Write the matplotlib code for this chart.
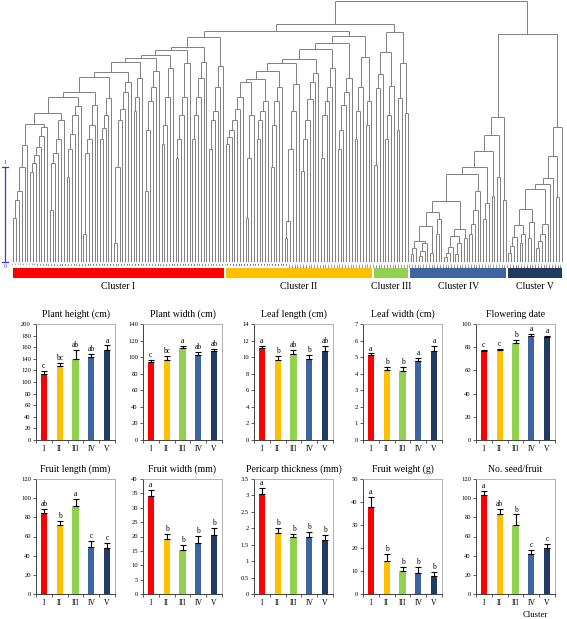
import matplotlib
matplotlib.use('Agg')
import matplotlib.pyplot as plt
from matplotlib.collections import LineCollection
from matplotlib.patches import Rectangle
from matplotlib.transforms import blended_transform_factory

W, H = 567, 619
fig = plt.figure(figsize=(W / 100, H / 100), dpi=100)
SERIF = ['Liberation Serif', 'DejaVu Serif']

def ax_px(l, t, r, b):
    return fig.add_axes([l / W, 1 - b / H, (r - l) / W, (b - t) / H])

# ---------------- dendrogram data (heights, linkage scale) ----------------
# list of floats  -> ladder clade (successive leaves join at those heights)
# ('N', h, a, b)  -> node joining a and b at height h
# ('S', parts, hs)-> spine: parts joined one after another at heights hs
# 0               -> single leaf
cluster_I = ('S', [
    [0.47, 0.66, 0.75, 1.0, 1.24],
    [0.95, 1.05, 1.13, 1.22, 1.33, 1.43],
    [0.55, 1.05, 1.15, 1.3, 1.5],
    [0.9, 1.2, 1.35, 1.55, 1.65],
    [0.3, 1.15, 1.3, 1.45, 1.66],
    [1.3, 1.42, 1.55, 1.73],
    [0.2, 1.0, 1.5, 1.62, 1.8, 1.9],
    [1.6, 1.75, 1.95],
    [0.75, 1.4, 1.7, 1.85, 2.02],
    [1.25, 1.45, 1.75, 2.05],
    [1.1, 1.3, 1.55, 1.75, 2.1],
    [1.3, 1.55, 1.75, 1.95, 2.12],
    [1.2, 1.5, 1.6, 1.85, 2.07]],
    [1.46, 1.58, 1.75, 1.80, 1.96, 2.01, 2.12, 2.16, 2.19, 2.24, 2.27, 2.38])

cluster_II = ('N', 2.39,
    ('S', [
        [1.25, 1.32, 1.4, 1.5, 1.62, 1.75],
        [0.47, 1.1, 1.55],
        [1.3, 1.5, 1.6, 1.7],
        [1.0, 1.45, 1.7, 1.85],
        [0.25, 0.43, 1.2, 1.6, 1.88],
        [0.96, 1.3, 1.5, 1.72, 1.9, 2.0],
        [1.1, 1.55, 1.7, 1.85, 2.05],
        [1.2, 1.4, 1.66, 1.8, 1.95]],
        [1.9, 1.93, 2.02, 2.1, 2.15, 2.25, 2.32]),
    ('N', 2.17, [1.3, 1.6, 1.85], [1.45, 1.7]))

cluster_III = ('N', 2.43,
    ('N', 2.22, ('N', 1.99, [1.03, 1.84], 0), [1.3, 1.55, 1.86]),
    ('N', 2.1, [1.4, 1.73], [1.58]))

cluster_IV = ('S', [
    ('N', 0.64,
        ('N', 0.53, ('N', 0.38, ('N', 0.22, [0.08, 0.15], [0.06, 0.12, 0.2]), [0.1]),
         [0.3, 0.45]),
        ('N', 0.35, ('N', 0.28, [0.05, 0.1, 0.16], [0.08, 0.2]), [0.25])),
    [0.3, 0.4, 0.55, 0.75],
    [0.45, 0.62],
    [0.7],
    [0.9],
    [0.66]],
    [0.93, 1.0, 1.17, 1.34, 1.53])

cluster_V = ('S', [
    ('N', 0.56, ('N', 0.39, [0.1, 0.17, 0.26], [0.2, 0.3]), [0.25, 0.42]),
    [0.15, 0.22, 0.3, 0.4],
    0, 0,
    [0.69],
    0],
    [0.77, 0.83, 0.89, 1.12, 1.43])

top_heights = {'I+II': 2.44, 'I+II+III': 2.52, 'IV+V': 2.41, 'root': 2.76}
cluster_names = ['Cluster I', 'Cluster II', 'Cluster III', 'Cluster IV', 'Cluster V']
cluster_colors = ['#FF0000', '#FFC000', '#92D050', '#3C65A2', '#1F3B63']

# ---------------- build tree ----------------
def build(spec):
    if spec == 0:
        return None
    if isinstance(spec, list):
        node = None
        for h in spec:
            node = (h, node, None)
        return node
    if spec[0] == 'N':
        return (spec[1], build(spec[2]), build(spec[3]))
    if spec[0] == 'S':
        parts, hs = spec[1], spec[2]
        node = build(parts[0])
        for p, h in zip(parts[1:], hs):
            node = (h, node, build(p))
        return node

trees = [build(s) for s in (cluster_I, cluster_II, cluster_III, cluster_IV, cluster_V)]

def nleaves(t):
    return 1 if t is None else nleaves(t[1]) + nleaves(t[2])

sizes = [nleaves(t) for t in trees]
root = (top_heights['root'],
        (top_heights['I+II+III'], (top_heights['I+II'], trees[0], trees[1]), trees[2]),
        (top_heights['IV+V'], trees[3], trees[4]))
N = nleaves(root)

segs = []
counter = [0]

def draw(t):
    if t is None:
        x = counter[0]
        counter[0] += 1
        return x, 0.0
    h, a, b = t
    xa, ha = draw(a)
    xb, hb = draw(b)
    segs.append([(xa, ha), (xa, h)])
    segs.append([(xb, hb), (xb, h)])
    segs.append([(xa, h), (xb, h)])
    return (xa + xb) / 2, h

draw(root)

dax = ax_px(12, 1, 563, 262)
dax.set_xlim(-0.5, N - 0.5)
dax.set_ylim(0, top_heights['root'])
dax.axis('off')
dax.add_collection(LineCollection(segs, colors='#808080', linewidths=0.7))

# leaf labels (tiny)
for i in range(N):
    dax.text(i, -0.004, str(i + 1), rotation=90, ha='center', va='top',
             fontsize=1.7, color='#000000', clip_on=False)

# scale bar
tr = blended_transform_factory(dax.transAxes, dax.transData)
xb = -7 / 551
blue = '#3b3bc8'
dax.plot([xb, xb], [0, 1], color=blue, lw=0.9, transform=tr, clip_on=False)
for yv in (0, 1):
    dax.plot([xb - 0.006, xb + 0.006], [yv, yv], color=blue, lw=0.9, transform=tr, clip_on=False)
dax.text(xb, 1.03, '1', color=blue, fontsize=4.5, family=SERIF, ha='center', va='bottom',
         transform=tr, clip_on=False)
dax.text(xb, -0.02, '0', color=blue, fontsize=4.5, family=SERIF, ha='center', va='top',
         transform=tr, clip_on=False)

# cluster bars + labels
start = 0
for name, n, col in zip(cluster_names, sizes, cluster_colors):
    x0 = start - 0.5 + 0.35
    x1 = start + n - 0.5 - 0.35
    dax.add_patch(Rectangle((x0, -0.165), x1 - x0, 0.105, facecolor=col, edgecolor='none',
                            clip_on=False))
    dax.text((x0 + x1) / 2, -0.26, name, ha='center', va='center', fontsize=7,
             family=SERIF, clip_on=False)
    start += n

# ---------------- bar chart data ----------------
groups = ['I', 'II', 'III', 'IV', 'V']

plant_height = [114, 127, 140, 143, 156]
plant_height_err = [5, 6, 15, 6, 7]
plant_height_let = ['c', 'bc', 'ab', 'ab', 'a']

plant_width = [94, 97, 111, 102, 107]
plant_width_err = [3, 4, 3, 4, 3]
plant_width_let = ['c', 'bc', 'a', 'ab', 'ab']

leaf_length = [11.1, 9.7, 10.4, 9.8, 10.8]
leaf_length_err = [0.25, 0.4, 0.5, 0.45, 0.55]
leaf_length_let = ['a', 'b', 'ab', 'b', 'ab']

leaf_width = [5.1, 4.2, 4.15, 4.75, 5.4]
leaf_width_err = [0.12, 0.2, 0.25, 0.2, 0.28]
leaf_width_let = ['a', 'b', 'b', 'a', 'a']

flowering = [77, 77.5, 84, 90, 89]
flowering_err = [0.5, 0.8, 2, 1.5, 1]
flowering_let = ['c', 'c', 'b', 'a', 'a']

fruit_length = [85, 71.5, 92, 49, 48.5]
fruit_length_err = [4, 4.5, 7, 6.5, 5]
fruit_length_let = ['ab', 'b', 'a', 'c', 'c']

fruit_width = [34.2, 19.3, 15.4, 17.9, 20.6]
fruit_width_err = [2, 1.7, 1.6, 2.3, 2.4]
fruit_width_let = ['a', 'b', 'b', 'b', 'b']

pericarp = [3.05, 1.87, 1.72, 1.72, 1.65]
pericarp_err = [0.17, 0.14, 0.12, 0.18, 0.15]
pericarp_let = ['a', 'b', 'b', 'b', 'b']

fruit_weight = [38, 14.3, 10, 9, 7.8]
fruit_weight_err = [4.3, 3, 1.7, 2.6, 1.8]
fruit_weight_let = ['a', 'b', 'b', 'b', 'b']

seeds = [103, 83, 72.5, 41.5, 47.5]
seeds_err = [5, 5.5, 10.5, 4.5, 5]
seeds_let = ['a', 'ab', 'b', 'c', 'c']

titles = ['Plant height (cm)', 'Plant width (cm)', 'Leaf length (cm)', 'Leaf width (cm)',
          'Flowering date', 'Fruit length (mm)', 'Fruit width (mm)',
          'Pericarp thickness (mm)', 'Fruit weight (g)', 'No. seed/fruit']
y_max = [200, 140, 14, 7, 100, 120, 40, 3.5, 50, 120]
y_step = [20, 20, 2, 1, 20, 20, 5, 0.5, 10, 20]
means = [plant_height, plant_width, leaf_length, leaf_width, flowering,
         fruit_length, fruit_width, pericarp, fruit_weight, seeds]
errs = [plant_height_err, plant_width_err, leaf_length_err, leaf_width_err, flowering_err,
        fruit_length_err, fruit_width_err, pericarp_err, fruit_weight_err, seeds_err]
letters = [plant_height_let, plant_width_let, leaf_length_let, leaf_width_let, flowering_let,
           fruit_length_let, fruit_width_let, pericarp_let, fruit_weight_let, seeds_let]

col_left = [36, 143, 254, 363, 476]
row_tb = [(324, 440), (479, 594)]
panel_w = 79

for k in range(10):
    r, c = divmod(k, 5)
    t, b = row_tb[r]
    l = col_left[c]
    ax = ax_px(l, t, l + panel_w, b)
    xs = list(range(5))
    ax.bar(xs, means[k], width=0.38, color=cluster_colors, edgecolor='none', zorder=2)
    ax.errorbar(xs, means[k], yerr=[[0] * 5, errs[k]], fmt='none', ecolor='black',
                elinewidth=0.8, capsize=2, capthick=0.8, zorder=3)
    for i in xs:
        ax.text(i, means[k][i] + errs[k][i] + y_max[k] * 0.008, letters[k][i],
                ha='center', va='bottom', fontsize=5.5, family=SERIF)
    ax.set_xlim(-0.5, 4.5)
    ax.set_ylim(0, y_max[k])
    nt = int(round(y_max[k] / y_step[k]))
    ticks = [y_step[k] * j for j in range(nt + 1)]
    ax.set_yticks(ticks)
    ax.set_yticklabels([f'{v:g}' for v in ticks], fontsize=4.7, family=SERIF)
    ax.set_xticks(xs)
    ax.set_xticklabels(groups, fontsize=5.5, family=SERIF)
    ax.set_xticks([i - 0.5 for i in range(6)], minor=True)
    ax.tick_params(axis='x', which='major', length=0, pad=3.5)
    ax.tick_params(axis='x', which='minor', length=2.2, width=0.6, direction='out',
                   color='#404040')
    ax.tick_params(axis='y', length=2.2, width=0.6, direction='out', pad=1.5,
                   color='#404040')
    for s in ('top', 'right'):
        ax.spines[s].set_color('#a6a6a6')
        ax.spines[s].set_linewidth(0.6)
    for s in ('left', 'bottom'):
        ax.spines[s].set_color('#404040')
        ax.spines[s].set_linewidth(0.7)
    ax.set_title(titles[k], fontsize=7, family=SERIF, pad=5)

fig.text(535 / W, 1 - 615 / H, 'Cluster', fontsize=6.2, family=SERIF, ha='center', va='center')

fig.savefig('out.png', dpi=100)
